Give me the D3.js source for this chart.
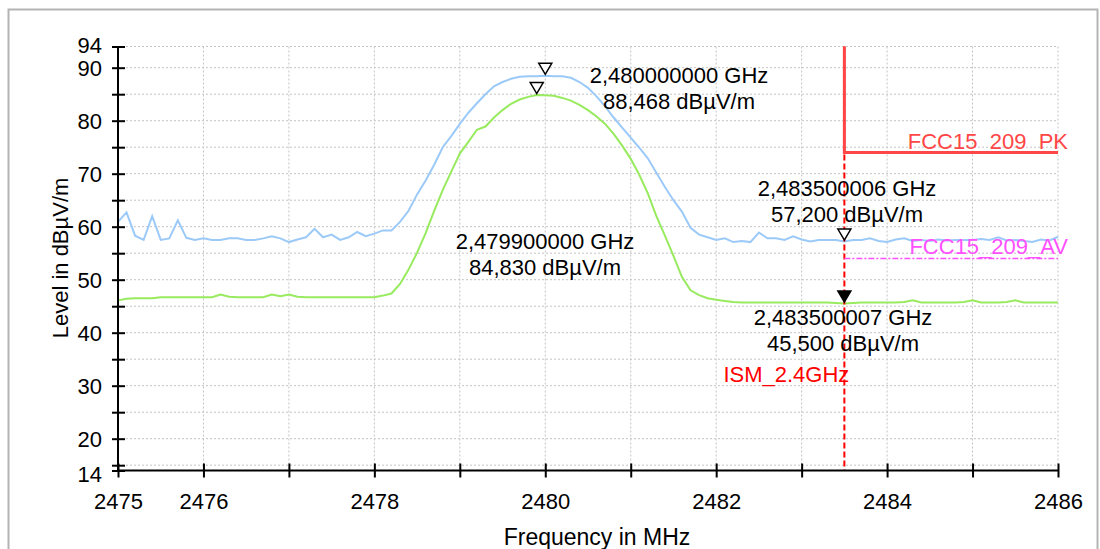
<!DOCTYPE html>
<html>
<head>
<meta charset="utf-8" />
<title>Level vs Frequency</title>
<script src="https://cdn.jsdelivr.net/npm/d3@7"></script>
<style>
	body { margin: 0; background: #fff; }
	svg { font-family: "Liberation Sans", Arial, sans-serif; }
	.grid line { stroke: #c4c4c4; stroke-width: 1; stroke-dasharray: 2,2; }
	.axis path, .axis line { stroke: #000; stroke-width: 2; }
	.axis text { font-size: 22px; fill: #000; }
</style>
</head>
<body>
<div id="chart"></div>
<script>
	// sweep: 2475 MHz start, 0.1 MHz step
	const sweepStart = 2475;
	const sweepStep = 0.1;

	// peak trace (blue), dBuV/m
	const peakTrace = [
		60.9, 62.7, 58.3, 57.5, 62.0, 57.5, 57.8, 61.2, 57.9, 57.5,
		57.8, 57.5, 57.5, 57.8, 57.8, 57.5, 57.5, 57.8, 58.2, 57.8,
		57.1, 57.6, 58.0, 59.6, 58.0, 58.5, 57.5, 58.0, 59.0, 58.2,
		58.7, 59.3, 59.3, 60.9, 63.0, 66.1, 68.7, 71.7, 75.0, 77.1,
		79.4, 81.5, 83.3, 85.0, 86.5, 87.3, 87.9, 88.3, 88.4, 88.4,
		88.468, 88.4, 88.4, 88.1, 87.3, 86.2, 84.6, 82.7, 80.6, 78.7,
		76.8, 74.9, 72.9, 70.2, 67.5, 65.0, 62.8, 59.8, 58.5, 58.0,
		57.5, 57.8, 57.1, 57.3, 57.1, 58.9, 57.8, 57.8, 57.5, 58.2,
		57.6, 57.2, 57.5, 57.5, 57.5, 57.2, 57.5, 57.5, 57.8, 57.3,
		57.1, 57.6, 57.8, 57.3, 57.5, 57.3, 57.6, 57.4, 57.5, 57.5,
		57.5, 57.7, 57.5, 58.0, 57.4, 57.5, 57.3, 57.1, 57.6, 57.4,
		58.1
	];

	// average trace (green), dBuV/m
	const avgTrace = [
		46.1, 46.4, 46.5, 46.5, 46.5, 46.7, 46.7, 46.7, 46.7, 46.7,
		46.7, 46.7, 47.2, 46.8, 46.7, 46.7, 46.7, 46.7, 47.2, 46.9,
		47.2, 46.8, 46.7, 46.7, 46.7, 46.7, 46.7, 46.7, 46.7, 46.7,
		46.7, 47.0, 47.4, 49.2, 51.9, 55.1, 58.8, 63.0, 66.9, 70.4,
		73.8, 76.0, 78.3, 78.9, 80.6, 82.0, 83.2, 84.0, 84.5, 84.83,
		84.8, 84.7, 84.3, 83.8, 83.0, 82.0, 80.8, 79.4, 77.5, 75.3,
		72.8, 69.8, 66.3, 62.0, 58.3, 54.5, 50.5, 48.0, 47.1, 46.5,
		46.2, 46.0, 45.8, 45.7, 45.7, 45.7, 45.7, 45.7, 45.7, 45.7,
		45.7, 45.7, 45.7, 45.7, 45.6, 45.5, 45.6, 45.7, 45.7, 45.7,
		45.7, 45.7, 45.8, 46.1, 45.7, 45.7, 45.7, 45.7, 45.7, 45.8,
		46.1, 45.7, 45.7, 45.7, 45.8, 46.1, 45.7, 45.7, 45.7, 45.7,
		45.7
	];

	// limit lines [MHz, dBuV/m]
	const pkLimit = [[2483.5, 94], [2483.5, 74], [2486, 74]];
	const avLimit = [[2483.5, 54], [2486, 54]];
	const ismEdge = 2483.5;

	// markers
	const markerFreqs = [2480.0, 2479.9, 2483.5, 2483.5];
	const markerLevels = [88.468, 84.830, 57.200, 45.500];
	const markerFilled = [false, false, false, true];
	const markerTexts = [
		["2,480000000 GHz", "88,468 dBµV/m"],
		["2,479900000 GHz", "84,830 dBµV/m"],
		["2,483500006 GHz", "57,200 dBµV/m"],
		["2,483500007 GHz", "45,500 dBµV/m"]
	];

	// axis ticks
	const yTicks = [14, 15, 20, 25, 30, 35, 40, 45, 50, 55, 60, 65, 70, 75, 80, 85, 90, 94];
	const yLabels = [14, 20, 30, 40, 50, 60, 70, 80, 90, 94];
	const xTicks = [2475, 2476, 2477, 2478, 2479, 2480, 2481, 2482, 2483, 2484, 2485, 2486];
	const xLabels = [2475, 2476, 2478, 2480, 2482, 2484, 2486];

	const width = 1100;
	const height = 549;

	const svg = d3.select("#chart")
		.append("svg")
		.attr("width", width)
		.attr("height", height);

	// outer frame
	svg.append("rect")
		.attr("x", 8.5)
		.attr("y", 9.5)
		.attr("width", 1089)
		.attr("height", 560)
		.attr("fill", "none")
		.attr("stroke", "#b4b4b4")
		.attr("stroke-width", 2);

	const x = d3.scaleLinear().domain([2475, 2486]).range([118, 1058]);
	const y = d3.scaleLinear().domain([14, 94]).range([470.5, 46.5]);

	// grid
	const grid = svg.append("g").attr("class", "grid");
	grid.selectAll(".h")
		.data(yTicks.filter(d => d !== 14))
		.enter()
		.append("line")
		.attr("x1", x(2475))
		.attr("x2", x(2486))
		.attr("y1", d => y(d))
		.attr("y2", d => y(d));
	grid.selectAll(".v")
		.data(xTicks.filter(d => d !== 2475))
		.enter()
		.append("line")
		.attr("x1", d => x(d))
		.attr("x2", d => x(d))
		.attr("y1", y(94))
		.attr("y2", y(14));

	// traces
	const line = d3.line()
		.x((d, i) => x(sweepStart + i * sweepStep))
		.y(d => y(d));

	svg.append("path")
		.attr("d", line(peakTrace))
		.attr("fill", "none")
		.attr("stroke", "#9ccaf8")
		.attr("stroke-width", 2);

	svg.append("path")
		.attr("d", line(avgTrace))
		.attr("fill", "none")
		.attr("stroke", "#98ea5e")
		.attr("stroke-width", 2);

	// limit lines
	const limLine = d3.line().x(d => x(d[0])).y(d => y(d[1]));

	svg.append("line")
		.attr("x1", x(ismEdge))
		.attr("x2", x(ismEdge))
		.attr("y1", y(94))
		.attr("y2", y(14))
		.attr("stroke", "#ff0000")
		.attr("stroke-width", 2)
		.attr("stroke-dasharray", "6,3");

	svg.append("path")
		.attr("d", limLine(pkLimit))
		.attr("fill", "none")
		.attr("stroke", "#ff4646")
		.attr("stroke-width", 3);

	svg.append("path")
		.attr("d", limLine(avLimit))
		.attr("fill", "none")
		.attr("stroke", "#ff50ff")
		.attr("stroke-width", 1.5)
		.attr("stroke-dasharray", "6,2,2,2");

	svg.append("text")
		.attr("x", 1068)
		.attr("y", y(74) - 4)
		.attr("text-anchor", "end")
		.attr("font-size", "22px")
		.attr("fill", "#ff4646")
		.text("FCC15_209_PK");

	svg.append("text")
		.attr("x", 1068)
		.attr("y", y(54) - 5)
		.attr("text-anchor", "end")
		.attr("font-size", "22px")
		.attr("fill", "#ff50ff")
		.text("FCC15_209_AV");

	svg.append("text")
		.attr("x", x(ismEdge) + 5)
		.attr("y", 382)
		.attr("text-anchor", "end")
		.attr("font-size", "22px")
		.attr("fill", "#ff0000")
		.text("ISM_2.4GHz");

	// axes
	const yAxis = svg.append("g")
		.attr("class", "axis")
		.attr("transform", "translate(" + x(2475) + ",0)")
		.call(d3.axisLeft(y)
			.tickValues(yTicks)
			.tickSizeOuter(0)
			.tickSizeInner(6)
			.tickPadding(10)
			.tickFormat(d => yLabels.includes(d) ? d : ""));
	yAxis.selectAll(".tick line").attr("x2", -6).attr("x1", 7);
	yAxis.selectAll(".tick text")
		.attr("dy", d => d === 94 ? "0.26em" : d === 14 ? "0.48em" : "0.36em");

	const xAxis = svg.append("g")
		.attr("class", "axis")
		.attr("transform", "translate(0," + y(14) + ")")
		.call(d3.axisBottom(x)
			.tickValues(xTicks)
			.tickSizeOuter(0)
			.tickSizeInner(7)
			.tickPadding(16)
			.tickFormat(d => xLabels.includes(d) ? d : ""));
	xAxis.selectAll(".tick line").attr("y1", -7);
	xAxis.select(".domain").attr("d", "M" + x(2475) + ",0H" + x(2486));
	yAxis.select(".domain").attr("d", "M0," + y(94) + "V" + y(14));

	svg.append("text")
		.attr("x", 597)
		.attr("y", 545)
		.attr("text-anchor", "middle")
		.attr("font-size", "23px")
		.text("Frequency in MHz");

	svg.append("text")
		.attr("transform", "translate(68,258) rotate(-90)")
		.attr("text-anchor", "middle")
		.attr("font-size", "22px")
		.text("Level in dBµV/m");

	// markers: triangle tip sits just above the trace point
	const labelPos = [[679, 83], [545, 249], [847, 196], [843, 325]];
	markerFreqs.forEach((f, i) => {
		const mx = x(f);
		const my = y(markerLevels[i]) - 1.5;
		svg.append("path")
			.attr("d", "M" + (mx - 6.5) + "," + (my - 11) + "L" + (mx + 6.5) + "," + (my - 11) + "L" + mx + "," + my + "Z")
			.attr("fill", markerFilled[i] ? "#000" : "#fff")
			.attr("stroke", "#000")
			.attr("stroke-width", 1.5);
		const t = svg.append("text")
			.attr("text-anchor", "middle")
			.attr("font-size", "22px")
			.attr("fill", "#000");
		markerTexts[i].forEach((s, k) => {
			t.append("tspan")
				.attr("x", labelPos[i][0])
				.attr("y", labelPos[i][1] + k * 25.5)
				.text(s);
		});
	});
</script>
</body>
</html>
